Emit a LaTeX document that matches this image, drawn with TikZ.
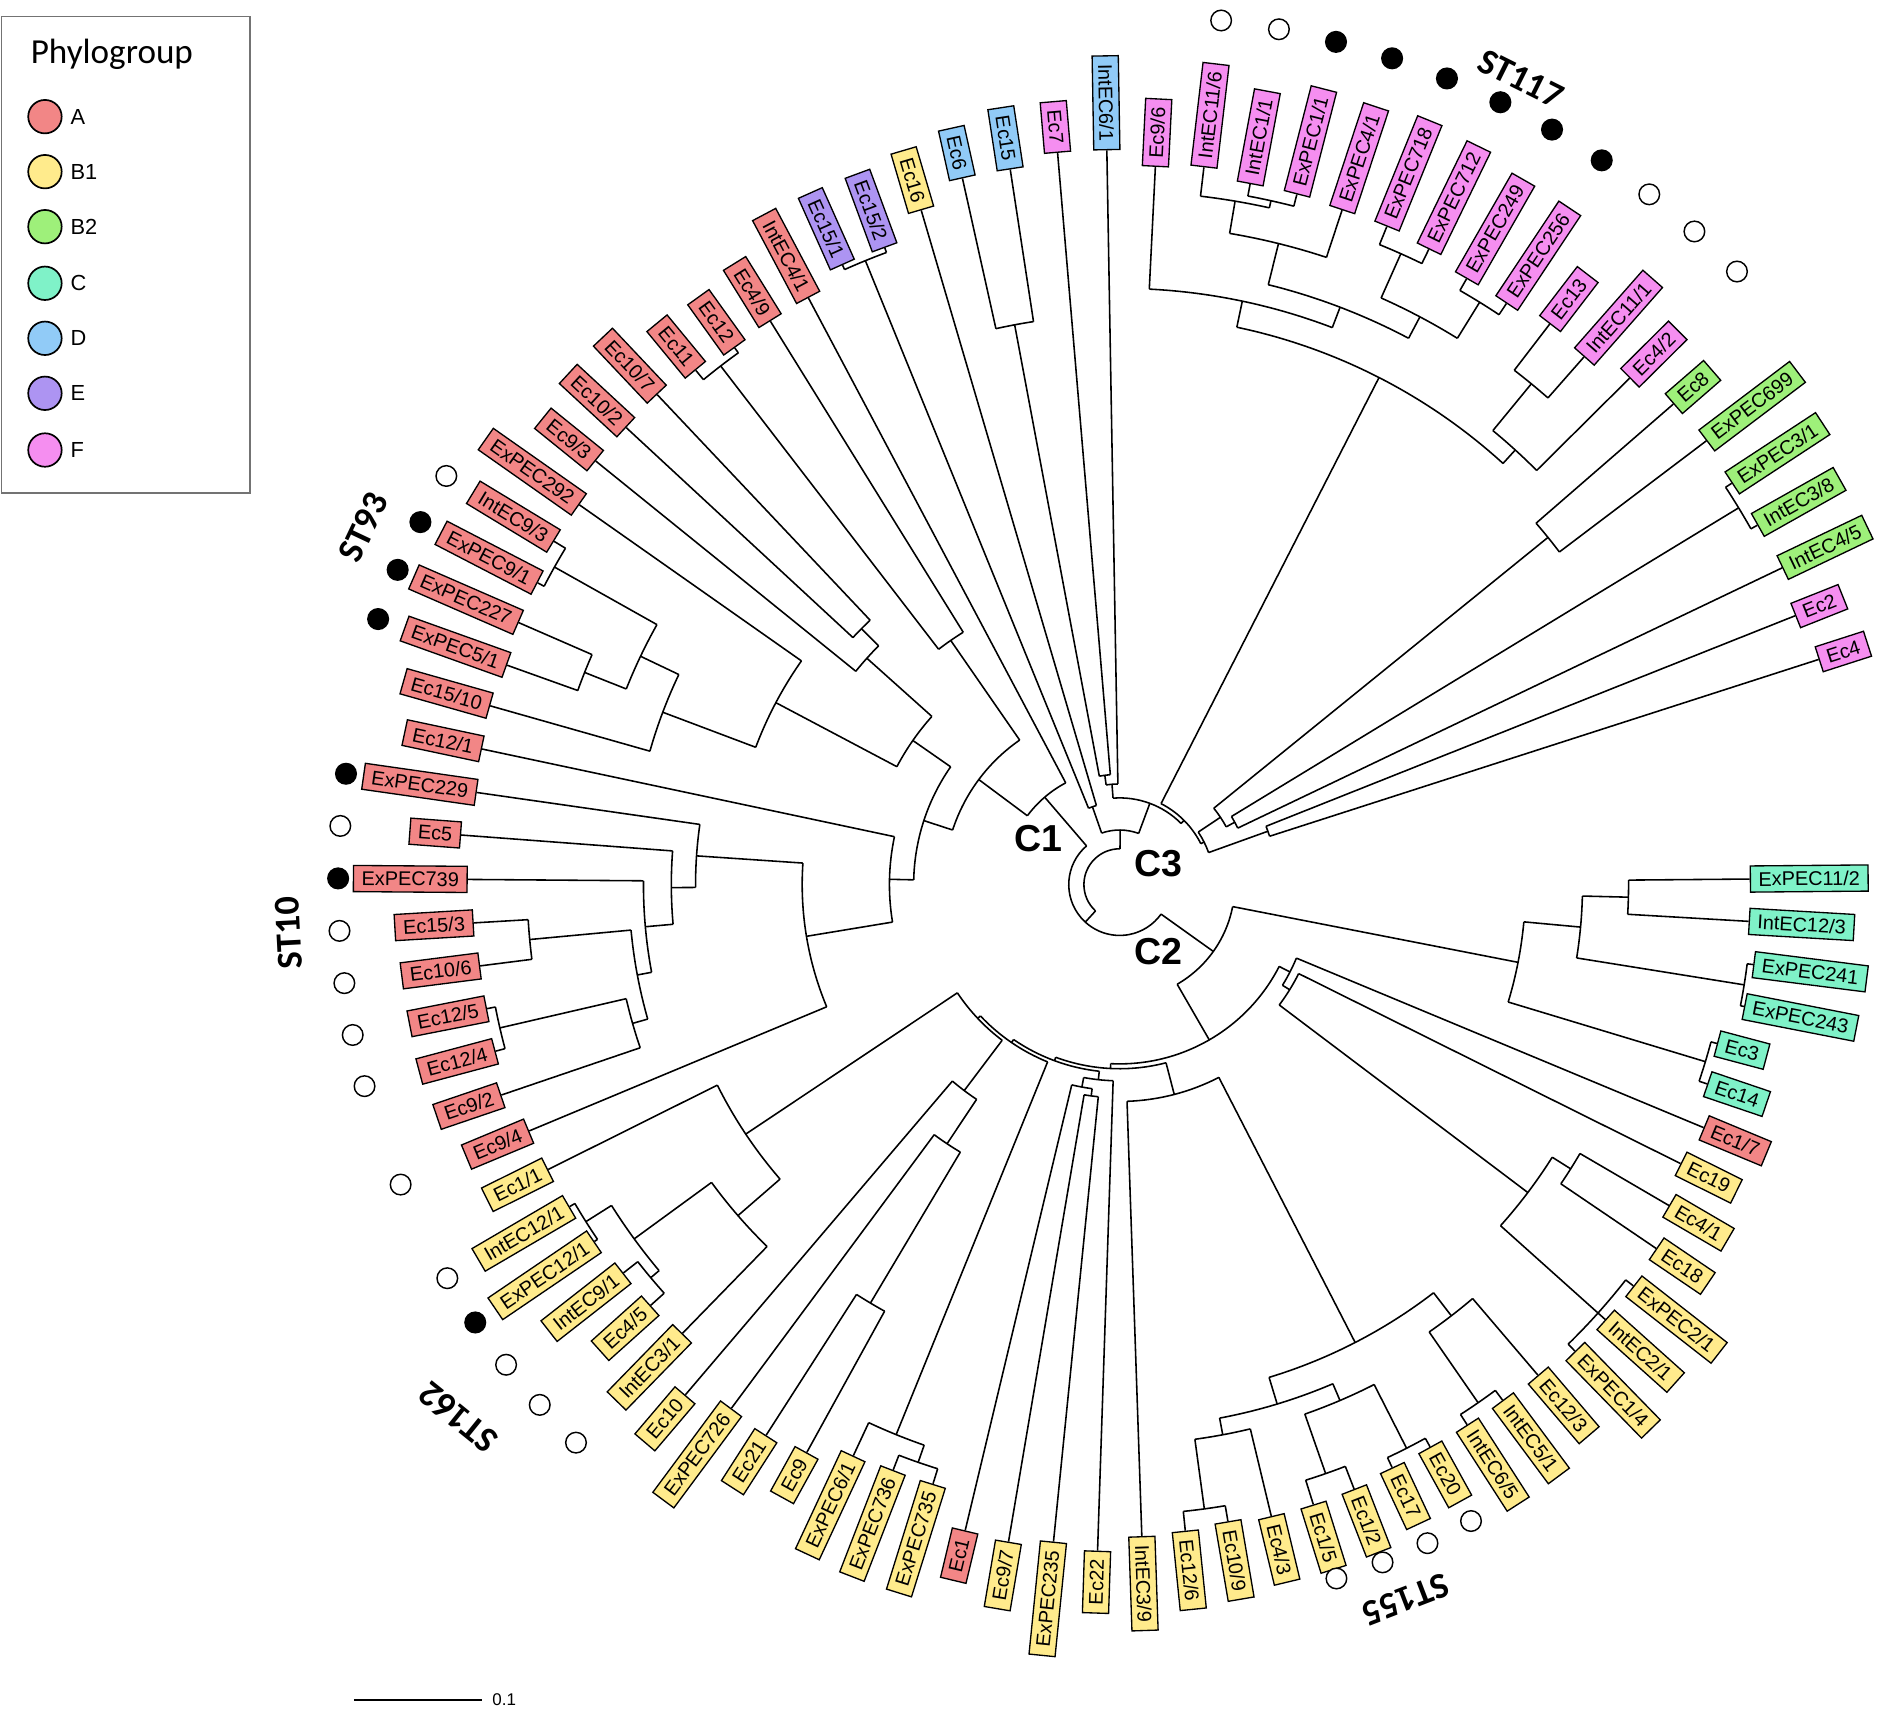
\documentclass[tikz,border=0pt]{standalone}
\usepackage{fontspec}
\setmainfont{Liberation Sans}
\newfontfamily\stfont{Carlito}
\definecolor{cA}{HTML}{F28686}
\definecolor{cB}{HTML}{FFEB8C}
\definecolor{cBB}{HTML}{9EF07A}
\definecolor{cC}{HTML}{7FF2C8}
\definecolor{cD}{HTML}{91CBF7}
\definecolor{cE}{HTML}{AD94F2}
\definecolor{cF}{HTML}{F58EF0}
\tikzset{
  br/.style={line width=0.65pt},
  lab/.style={draw=black, line width=0.55pt, font=\fontsize{8.2}{9.5}\selectfont, inner xsep=3.4pt, inner ysep=0pt, minimum height=10.8pt},
  dotc/.style={circle, draw=black, line width=0.6pt, minimum size=8.5pt, inner sep=0pt},
  stl/.style={font=\stfont\bfseries\fontsize{15}{17}\selectfont},
  cl/.style={font=\bfseries\fontsize{15.5}{17}\selectfont},
  legc/.style={circle, draw=black, line width=0.7pt, minimum size=13.8pt, inner sep=0pt},
  legt/.style={font=\fontsize{9}{10}\selectfont, anchor=west, inner sep=0pt},
}
% leaf: id, index, tip radius, colour, text
\newcommand\PhyLeaf[5]{%
  \pgfmathsetmacro\myang{0.5-3.85*#2}%
  \expandafter\xdef\csname A@#1\endcsname{\myang}%
  \expandafter\xdef\csname R@#1\endcsname{#3}%
  \pgfmathsetmacro\mynorm{mod(\myang+720,360)}%
  \pgfmathsetmacro\myflip{and(\mynorm>90,\mynorm<270)}%
  \ifdim\myflip pt>0.5pt
    \pgfmathsetmacro\myrot{\myang+180}%
    \node[lab,fill=#4,anchor=east,rotate=\myrot] (n#1) at (\myang:#3) {#5};%
  \else
    \node[lab,fill=#4,anchor=west,rotate=\myang] (n#1) at (\myang:#3) {#5};%
  \fi
}
% internal node: id, radius, children
\newcommand\PhyNode[3]{%
  \gdef\firstkid{}%
  \foreach \kid in {#3}{\ifx\firstkid\empty\xdef\firstkid{\kid}\fi\xdef\lastkid{\kid}}%
  \edef\angA{\csname A@\firstkid\endcsname}%
  \edef\angB{\csname A@\lastkid\endcsname}%
  \pgfmathsetmacro\angM{(\angA+\angB)/2}%
  \expandafter\xdef\csname A@#1\endcsname{\angM}%
  \expandafter\xdef\csname R@#1\endcsname{#2}%
  \draw[br] (\angA:#2) arc[start angle=\angA, end angle=\angB, radius=#2];%
  \foreach \kid in {#3}{%
    \edef\kA{\csname A@\kid\endcsname}%
    \edef\kR{\csname R@\kid\endcsname}%
    \draw[br] (\kA:#2) -- (\kA:\kR);}%
}
\newcommand\PhyDot[3]{%
  \pgfmathsetmacro\dang{0.5-3.85*#1}%
  \node[dotc,fill=#3] (d#1) at (\dang:#2) {};}
\begin{document}
\begin{tikzpicture}[x=0.5pt,y=0.5pt]
\fill[white] (0,0) rectangle (1568,1411);
\useasboundingbox (0,0) rectangle (1568,1411);
\begin{scope}[shift={(924,681)}]
\PhyLeaf{L0}{0}{520}{cC}{ExPEC11/2}
\PhyLeaf{L1}{1}{520}{cC}{IntEC12/3}
\PhyLeaf{L2}{2}{527}{cC}{ExPEC241}
\PhyLeaf{L3}{3}{525}{cC}{ExPEC243}
\PhyLeaf{L4}{4}{510}{cC}{Ec3}
\PhyLeaf{L5}{5}{512}{cC}{Ec14}
\PhyLeaf{L6}{6}{522}{cA}{Ec1/7}
\PhyLeaf{L7}{7}{517}{cB}{Ec19}
\PhyLeaf{L8}{8}{525}{cB}{Ec4/1}
\PhyLeaf{L9}{9}{535}{cB}{Ec18}
\PhyLeaf{L10}{10}{538}{cB}{ExPEC2/1}
\PhyLeaf{L11}{11}{538}{cB}{IntEC2/1}
\PhyLeaf{L12}{12}{538}{cB}{ExPEC1/4}
\PhyLeaf{L13}{13}{532}{cB}{Ec12/3}
\PhyLeaf{L14}{14}{530}{cB}{IntEC5/1}
\PhyLeaf{L15}{15}{530}{cB}{IntEC6/5}
\PhyLeaf{L16}{16}{530}{cB}{Ec20}
\PhyLeaf{L17}{17}{531}{cB}{Ec17}
\PhyLeaf{L18}{18}{535}{cB}{Ec1/2}
\PhyLeaf{L19}{19}{536}{cB}{Ec1/5}
\PhyLeaf{L20}{20}{536}{cB}{Ec4/3}
\PhyLeaf{L21}{21}{533}{cB}{Ec10/9}
\PhyLeaf{L22}{22}{536}{cB}{Ec12/6}
\PhyLeaf{L23}{23}{538}{cB}{IntEC3/9}
\PhyLeaf{L24}{24}{550}{cB}{Ec22}
\PhyLeaf{L25}{25}{545}{cB}{ExPEC235}
\PhyLeaf{L26}{26}{550}{cB}{Ec9/7}
\PhyLeaf{L27}{27}{548}{cA}{Ec1}
\PhyLeaf{L28}{28}{518}{cB}{ExPEC735}
\PhyLeaf{L29}{29}{518}{cB}{ExPEC736}
\PhyLeaf{L30}{30}{520}{cB}{ExPEC6/1}
\PhyLeaf{L31}{31}{535}{cB}{Ec9}
\PhyLeaf{L32}{32}{540}{cB}{Ec21}
\PhyLeaf{L33}{33}{538}{cB}{ExPEC726}
\PhyLeaf{L34}{34}{553}{cB}{Ec10}
\PhyLeaf{L35}{35}{517}{cB}{IntEC3/1}
\PhyLeaf{L36}{36}{520}{cB}{Ec4/5}
\PhyLeaf{L37}{37}{520}{cB}{IntEC9/1}
\PhyLeaf{L38}{38}{524}{cB}{ExPEC12/1}
\PhyLeaf{L39}{39}{526}{cB}{IntEC12/1}
\PhyLeaf{L40}{40}{527}{cB}{Ec1/1}
\PhyLeaf{L41}{41}{528}{cA}{Ec9/4}
\PhyLeaf{L42}{42}{539}{cA}{Ec9/2}
\PhyLeaf{L43}{43}{533}{cA}{Ec12/4}
\PhyLeaf{L44}{44}{532}{cA}{Ec12/5}
\PhyLeaf{L45}{45}{532}{cA}{Ec10/6}
\PhyLeaf{L46}{46}{534}{cA}{Ec15/3}
\PhyLeaf{L47}{47}{538}{cA}{ExPEC739}
\PhyLeaf{L48}{48}{545}{cA}{Ec5}
\PhyLeaf{L49}{49}{536}{cA}{ExPEC229}
\PhyLeaf{L50}{50}{538}{cA}{Ec12/1}
\PhyLeaf{L51}{51}{540}{cA}{Ec15/10}
\PhyLeaf{L52}{52}{537}{cA}{ExPEC5/1}
\PhyLeaf{L53}{53}{541}{cA}{ExPEC227}
\PhyLeaf{L54}{54}{541}{cA}{ExPEC9/1}
\PhyLeaf{L55}{55}{546}{cA}{IntEC9/3}
\PhyLeaf{L56}{56}{545}{cA}{ExPEC292}
\PhyLeaf{L57}{57}{556}{cA}{Ec9/3}
\PhyLeaf{L58}{58}{555}{cA}{Ec10/2}
\PhyLeaf{L59}{59}{556}{cA}{Ec10/7}
\PhyLeaf{L60}{60}{550}{cA}{Ec11}
\PhyLeaf{L61}{61}{545}{cA}{Ec12}
\PhyLeaf{L62}{62}{547}{cA}{Ec4/9}
\PhyLeaf{L63}{63}{548}{cA}{IntEC4/1}
\PhyLeaf{L64}{64}{560}{cE}{Ec15/1}
\PhyLeaf{L65}{65}{560}{cE}{Ec15/2}
\PhyLeaf{L66}{66}{580}{cB}{Ec16}
\PhyLeaf{L67}{67}{597}{cD}{Ec6}
\PhyLeaf{L68}{68}{597}{cD}{Ec15}
\PhyLeaf{L69}{69}{606}{cF}{Ec7}
\PhyLeaf{L70}{70}{606}{cD}{IntEC6/1}
\PhyLeaf{L71}{71}{593}{cF}{Ec9/6}
\PhyLeaf{L72}{72}{596}{cF}{IntEC11/6}
\PhyLeaf{L73}{73}{588}{cF}{IntEC1/1}
\PhyLeaf{L74}{74}{588}{cF}{ExPEC1/1}
\PhyLeaf{L75}{75}{586}{cF}{ExPEC4/1}
\PhyLeaf{L76}{76}{586}{cF}{ExPEC718}
\PhyLeaf{L77}{77}{583}{cF}{ExPEC712}
\PhyLeaf{L78}{78}{576}{cF}{ExPEC249}
\PhyLeaf{L79}{79}{576}{cF}{ExPEC256}
\PhyLeaf{L80}{80}{583}{cF}{Ec13}
\PhyLeaf{L81}{81}{580}{cF}{IntEC11/1}
\PhyLeaf{L82}{82}{593}{cF}{Ec4/2}
\PhyLeaf{L83}{83}{605}{cBB}{Ec8}
\PhyLeaf{L84}{84}{607}{cBB}{ExPEC699}
\PhyLeaf{L85}{85}{604}{cBB}{ExPEC3/1}
\PhyLeaf{L86}{86}{604}{cBB}{IntEC3/8}
\PhyLeaf{L87}{87}{606}{cBB}{IntEC4/5}
\PhyLeaf{L88}{88}{600}{cF}{Ec2}
\PhyLeaf{L89}{89}{606}{cF}{Ec4}
% ---- C2 side
\PhyNode{c01}{420}{L0,L1}
\PhyNode{p23}{522}{L2,L3}
\PhyNode{c0123}{382}{c01,p23}
\PhyNode{p45}{505}{L4,L5}
\PhyNode{Cg}{335}{c0123,p45}
\PhyNode{p89}{440}{L8,L9}
\PhyNode{t1012}{530}{L10,L11,L12}
\PhyNode{NB}{422}{p89,t1012}
\PhyNode{R2}{165}{L7,NB}
\PhyNode{R}{158}{L6,R2}
\PhyNode{p1415}{520}{L14,L15}
\PhyNode{S1}{449}{L13,p1415}
\PhyNode{p1617}{522}{L16,L17}
\PhyNode{p1819}{515}{L18,L19}
\PhyNode{N1d}{463}{p1617,p1819}
\PhyNode{p2122}{520}{L21,L22}
\PhyNode{N1b}{462}{L20,p2122}
\PhyNode{N1c}{448}{N1d,N1b}
\PhyNode{ST}{425}{S1,N1c}
\PhyNode{V}{179}{ST,L23}
\PhyNode{X3}{176}{L25,L26}
\PhyNode{X2}{170}{X3,L27}
\PhyNode{X}{162}{L24,X2}
\PhyNode{p2829}{505}{L28,L29}
\PhyNode{J}{490}{p2829,L30}
\PhyNode{p3132}{402}{L31,L32}
\PhyNode{K}{257}{p3132,L33}
\PhyNode{KK}{213}{K,L34}
\PhyNode{p3637}{505}{L36,L37}
\PhyNode{p3839}{521}{L38,L39}
\PhyNode{Z4}{496}{p3637,p3839}
\PhyNode{Z3}{417}{L35,Z4}
\PhyNode{Z}{371}{Z3,L40}
\PhyNode{M4}{161}{KK,Z}
\PhyNode{M3}{158}{J,M4}
\PhyNode{M2}{155}{X,M3}
\PhyNode{M}{152}{V,M2}
\PhyNode{BIG}{148}{R,M}
\PhyNode{C2}{95}{Cg,BIG}
% ---- C1 side
\PhyNode{p4344}{525}{L43,L44}
\PhyNode{E7c}{418}{L42,p4344}
\PhyNode{p4546}{489}{L45,L46}
\PhyNode{E7b}{405}{E7c,p4546}
\PhyNode{E7}{393}{E7b,L47}
\PhyNode{E5}{370}{E7,L48}
\PhyNode{E4}{350}{E5,L49}
\PhyNode{Y5}{262}{L41,E4}
\PhyNode{Y5p}{190}{Y5,L50}
\PhyNode{p5253}{475}{L52,L53}
\PhyNode{p5455}{535}{L54,L55}
\PhyNode{Y1}{438}{p5253,p5455}
\PhyNode{Y2}{403}{L51,Y1}
\PhyNode{Y3}{321}{Y2,L56}
\PhyNode{p5859}{300}{L58,L59}
\PhyNode{Y6pp}{280}{L57,p5859}
\PhyNode{Y6p}{208}{Y3,Y6pp}
\PhyNode{A2}{170}{Y5p,Y6p}
\PhyNode{p6061}{540}{L60,L61}
\PhyNode{A1}{245}{p6061,L62}
\PhyNode{Arest}{145}{A2,A1}
\PhyNode{C1}{95}{Arest,L63}
\PhyNode{Q}{42}{C1,C2}
% ---- C3 side
\PhyNode{pE}{556}{L64,L65}
\PhyNode{PL}{68}{pE,L66}
\PhyNode{pD}{470}{L67,L68}
\PhyNode{G1b}{91}{pD,L69}
\PhyNode{G1}{83}{G1b,L70}
\PhyNode{p7374}{578}{L73,L74}
\PhyNode{F1c1}{572}{L72,p7374}
\PhyNode{F1c}{545}{F1c1,L75}
\PhyNode{p7677}{570}{L76,L77}
\PhyNode{p7879}{565}{L78,L79}
\PhyNode{F1d}{530}{p7677,p7879}
\PhyNode{F1b}{510}{F1c,F1d}
\PhyNode{F1}{492}{L71,F1b}
\PhyNode{p8081}{535}{L80,L81}
\PhyNode{F2}{485}{p8081,L82}
\PhyNode{F0}{470}{F1,F2}
\PhyNode{p8384}{455}{L83,L84}
\PhyNode{p8586}{598}{L85,L86}
\PhyNode{BB}{108}{p8586,L87}
\PhyNode{B2}{100}{p8384,BB}
\PhyNode{p8889}{130}{L88,L89}
\PhyNode{C3c}{78}{B2,p8889}
\PhyNode{C3b}{75}{F0,C3c}
\PhyNode{C3}{71.5}{G1,C3b}
\PhyNode{P}{45}{PL,C3}
\PhyNode{root}{29.5}{P,Q}
% ---- sequence-type markers
\foreach \i/\f in {72/white,73/white,74/black,75/black,76/black,77/black,78/black,79/black,80/white,81/white,82/white}{\PhyDot{\i}{718}{\f}}
\foreach \i/\f in {55/white,54/black,53/black,52/black}{\PhyDot{\i}{650}{\f}}
\foreach \i/\f in {49/black,48/white,47/black,46/white,45/white,44/white,43/white}{\PhyDot{\i}{645}{\f}}
\foreach \i/\f in {41/white,39/white,38/black,37/white,36/white,35/white}{\PhyDot{\i}{643}{\f}}
\foreach \i/\f in {19/white,18/white,17/white,16/white}{\PhyDot{\i}{600}{\f}}
\end{scope}
% clade labels
\node[cl] (lc1) at (857,719) {C1};
\node[cl] (lc3) at (956,698) {C3};
\node[cl] (lc2) at (956,626) {C2};
% ST labels
\node[stl, rotate=-26.5] (st117) at (1255,1346) {ST117};
\node[stl, rotate=64.7] (st93) at (300,976) {ST93};
\node[stl, rotate=93] (st10) at (238,641) {ST10};
\node[stl, rotate=141] (st162) at (378,241) {ST162};
\node[stl, rotate=201] (st155) at (1160,91) {ST155};
% legend
\draw[black!55, line width=0.6pt] (1.4,1004) rectangle (206.3,1397.2);
\node[anchor=west, inner sep=0pt, font=\stfont\fontsize{14.5}{16}\selectfont] (lgtitle) at (25,1366) {Phylogroup};
\foreach \y/\c/\t [count=\k] in {1314.7/cA/A,1269.3/cB/B1,1223.9/cBB/B2,1177.2/cC/C,1131.8/cD/D,1086.4/cE/E,1039.6/cF/F}{
  \node[legc, fill=\c] (lgc\k) at (37.1,\y) {};
  \node[legt] (lgt\k) at (57.8,\y) {\t};
}
% scale bar
\coordinate (sb1) at (292,8);
\coordinate (sb2) at (398,8);
\draw[line width=0.7pt] (sb1) -- (sb2);
\node[anchor=west, inner sep=0pt, font=\fontsize{7}{8}\selectfont] (sbl) at (406,8) {0.1};
\end{tikzpicture}
\end{document}
